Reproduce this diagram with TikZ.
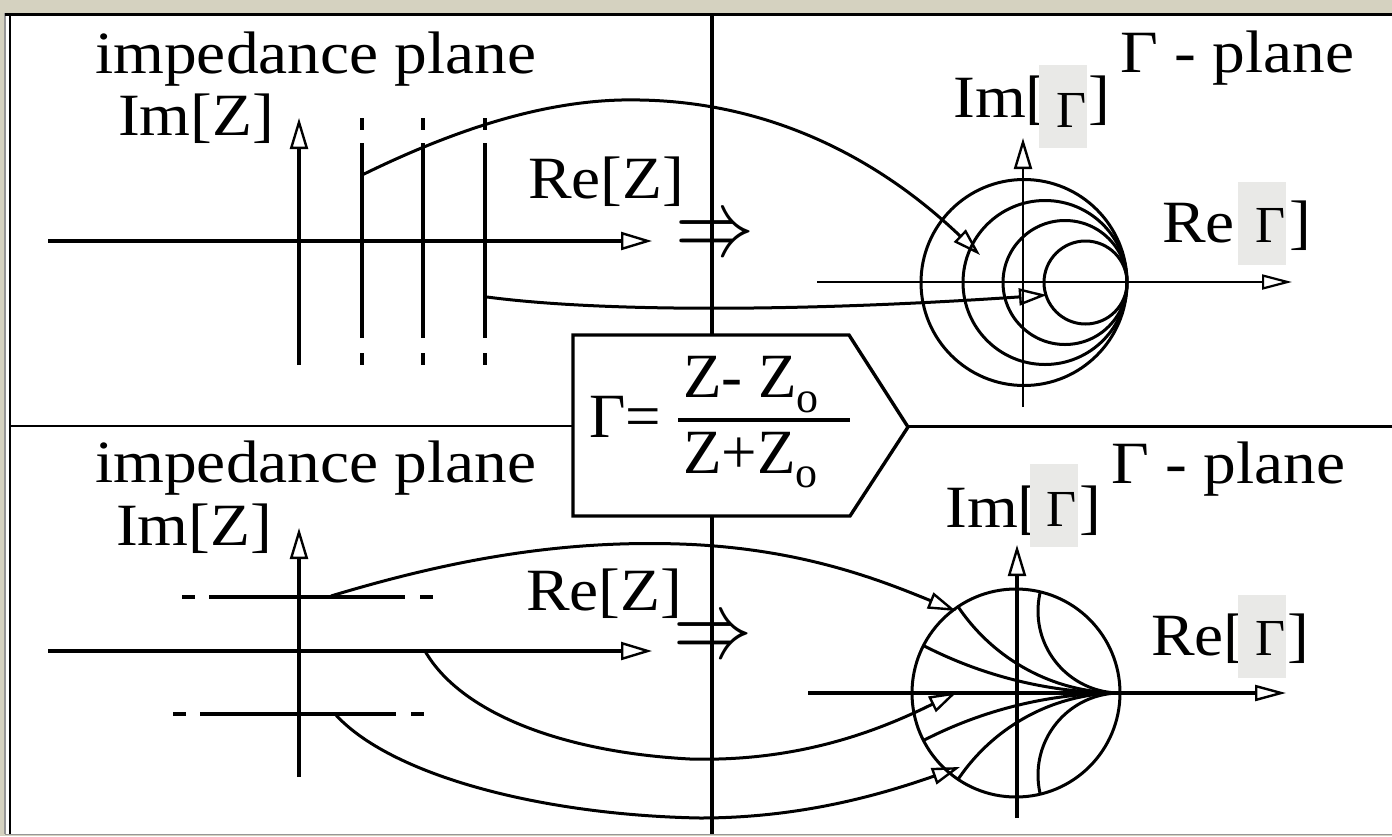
\documentclass[tikz,border=0pt]{standalone}
\usepackage{graphicx}
\usepackage{fontspec}
\setmainfont{Liberation Serif}
\usetikzlibrary{arrows.meta}
\definecolor{beige}{RGB}{213,210,192}
\definecolor{boxgray}{RGB}{233,233,231}
\definecolor{edgegray}{RGB}{150,150,150}
\newcommand{\bigimplies}{\scalebox{7.9}[9.5]{\raisebox{-0.25em}{\smash{$\Rightarrow$}}}}
\begin{document}
\begin{tikzpicture}[x=1pt,y=-1pt,
  lbl/.style={inner sep=0pt, anchor=base west, xscale=1.09, font=\fontsize{60}{60}\selectfont},
  glbl/.style={inner sep=0pt, anchor=base west, font=\fontsize{52}{52}\selectfont},
  flbl/.style={inner sep=0pt, anchor=base west, font=\fontsize{63}{63}\selectfont},
  implies/.style={inner sep=0pt},
  axis/.style={line width=3.4pt},
  thinaxis/.style={line width=2.2pt},
  curve/.style={line width=3pt},
  chart/.style={line width=3pt},
  ahead/.style={-{Triangle[open,length=31pt,width=18pt,line width=2.4pt]}},
  chead/.style={-{Triangle[open,length=28pt,width=17pt,line width=2.4pt]}},
  zline/.style={line width=3.4pt, dash pattern=on 12pt off 13pt on 195pt off 15pt on 12pt},
  hzline/.style={line width=3.4pt, dash pattern=on 13pt off 14pt on 196pt off 15pt on 13pt},
]
\useasboundingbox (0,0) rectangle (1392,836);
% frame
\fill[beige] (0,0) rectangle (1392,836);
\fill[white] (5,13) rectangle (1392,834);
\draw[edgegray, line width=1.5pt] (5,13) -- (5,834);
\draw[line width=2.4pt] (10,14) -- (10,834);
\draw[line width=3pt] (5,14.7) -- (1392,14.7);
\draw[edgegray, line width=1.5pt] (5,834.5) -- (1392,834.5);
% dividers
\draw[line width=2.4pt] (10,426) -- (573,426);
\draw[line width=2.4pt] (908,426.5) -- (1392,426.5);
\draw[line width=3.4pt] (712,15) -- (712,335);
\draw[line width=3.4pt] (712,516) -- (712,834);
% formula box
\draw[line width=3.4pt, fill=white] (573,335) -- (849,335) -- (908,427) -- (850,516) -- (573,516) -- cycle;
\node[flbl] (fg) at (589,437) {Γ=};
\node[flbl] (fnum) at (683,397) {Z- Z\raisebox{-15pt}{\fontsize{44}{44}\selectfont o}};
\node[flbl] (fden) at (683,473) {Z+Z\raisebox{-14pt}{\fontsize{44}{44}\selectfont o}};
\draw[line width=3.2pt] (678,420) -- (850,420);

% ---------------- top panel ----------------
\node[lbl] (ip1) at (95,73) {impedance plane};
\node[lbl] (imz1) at (118,135) {Im[Z]};
\node[lbl] (rez1) at (528,198) {Re[Z]};
\draw[axis, ahead] (48,241) -- (652,241);
\draw[axis, ahead] (299,365) -- (299,118);
\foreach \x in {362,423,485} \draw[zline] (\x,118) -- (\x,365);
\node[implies] (imp1) at (715,244) {\bigimplies};

\node[lbl] (gp1) at (1120,72) {Γ - plane};
\node[lbl] (img1) at (953,117) {Im[};
\fill[boxgray] (1039,65) rectangle (1087,148);
\node[glbl] (img1g) at (1056,127) {Γ};
\node[lbl] (img1b) at (1088,117) {]};
\node[lbl] (reg1) at (1162,242) {Re[};
\fill[boxgray] (1238,182) rectangle (1286,265);
\node[glbl] (reg1g) at (1255,242) {Γ};
\node[lbl] (reg1b) at (1289,242) {]};

\draw[thinaxis, -{Triangle[open,length=30pt,width=15pt,line width=2.2pt]}] (817,282) -- (1292,282);
\draw[thinaxis, ahead] (1023,407) -- (1023,138);
\draw[chart] (1024,282.5) circle (103pt);
\draw[chart] (1045,282.5) circle (82pt);
\draw[chart] (1065,282.5) circle (62pt);
\draw[chart] (1085.5,282.5) circle (41.5pt);

\coordinate (s1) at (362,175);
\coordinate (e1) at (980,255);
\coordinate (s2) at (487,297);
\coordinate (e2) at (1047,295);
\draw[curve, chead] (s1) .. controls (470,122) and (560,98) .. (640,100)
  .. controls (760,102) and (870,150) .. (e1);
\draw[curve, chead] (s2) .. controls (600,312) and (800,312) .. (e2);

% ---------------- bottom panel ----------------
\node[lbl] (ip2) at (95,482) {impedance plane};
\node[lbl] (imz2) at (116,545) {Im[Z]};
\node[lbl] (rez2) at (526,610) {Re[Z]};
\draw[axis, ahead] (48,651) -- (652,651);
\draw[axis, ahead] (299,777) -- (299,528);
\draw[hzline] (182,597) -- (433,597);
\draw[hzline] (173,714) -- (424,714);
\node[implies] (imp2) at (713,646) {\bigimplies};

\node[lbl] (gp2) at (1111,483) {Γ - plane};
\node[lbl] (img2) at (945,527) {Im[};
\fill[boxgray] (1030,464) rectangle (1078,547);
\node[glbl] (img2g) at (1046,526) {Γ};
\node[lbl] (img2b) at (1079,527) {]};
\node[lbl] (reg2) at (1151,655) {Re[};
\fill[boxgray] (1238,595) rectangle (1286,678);
\node[glbl] (reg2g) at (1255,655) {Γ};
\node[lbl] (reg2b) at (1287,655) {]};

\draw[axis, -{Triangle[open,length=31pt,width=16pt,line width=2.4pt]}] (808,693) -- (1286,693);
\draw[axis, ahead] (1017,818) -- (1017,545);
\draw[chart] (1016,693) circle (104pt);
\begin{scope}
  \clip (1016,693) circle (104pt);
  \foreach \r in {430,195,82} {
    \draw[chart] (1120,693-\r) circle (\r pt);
    \draw[chart] (1120,693+\r) circle (\r pt);
  }
\end{scope}

\coordinate (s3) at (331,596);
\coordinate (e3) at (956,611);
\coordinate (s4) at (425,651);
\coordinate (e4) at (957,692);
\coordinate (s5) at (335,714);
\coordinate (e5) at (960,767);
\draw[curve, chead] (s3) .. controls (450,560) and (560,540) .. (680,544)
  .. controls (800,548) and (880,580) .. (e3);
\draw[curve, chead] (s4) .. controls (460,712) and (560,752) .. (690,759)
  .. controls (800,762) and (880,730) .. (e4);
\draw[curve, chead] (s5) .. controls (390,775) and (540,815) .. (700,818)
  .. controls (800,818) and (880,795) .. (e5);
\end{tikzpicture}
\end{document}
